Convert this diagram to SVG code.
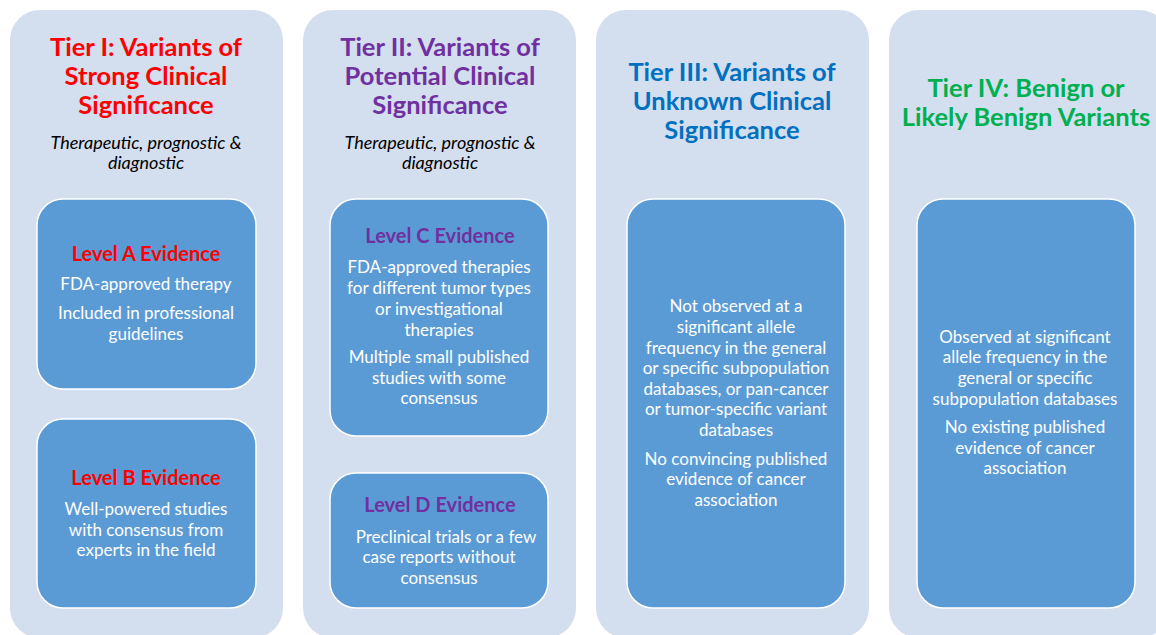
<svg xmlns="http://www.w3.org/2000/svg" width="1156" height="635" viewBox="0 0 1156 635">
<style>
.panel{fill:#D3DEEF;}
.box{fill:#5B9BD5;stroke:#FFFFFF;stroke-width:1.5;}
.title{font-family:Lato,"Liberation Sans",sans-serif;font-weight:bold;font-size:25.5px;text-anchor:middle;}
.sub{font-family:Lato,"Liberation Sans",sans-serif;font-style:italic;font-size:18px;text-anchor:middle;fill:#000;}
.hdr{font-family:Lato,"Liberation Sans",sans-serif;font-weight:bold;font-size:20px;text-anchor:middle;}
.body{font-family:Lato,"Liberation Sans",sans-serif;font-size:17px;text-anchor:middle;fill:#FFFFFF;}
.red{fill:#FF0000;}
.purple{fill:#7030A0;}
.blue{fill:#0070C0;}
.green{fill:#00B050;}
</style>
<rect width="1156" height="635" fill="#FFFFFF"/>
<g id="tier1">
<rect class="panel" x="10" y="10" width="273" height="628" rx="30"/>
<text class="title red" x="146"><tspan x="146" y="56">Tier I: Variants of</tspan><tspan x="146" y="85">Strong Clinical</tspan><tspan x="146" y="114">Significance</tspan></text>
<text class="sub"><tspan x="146" y="149">Therapeutic, prognostic &amp;</tspan><tspan x="146" y="169">diagnostic</tspan></text>
</g>
<g id="levelA">
<rect class="box" x="37" y="199" width="219" height="190" rx="26"/>
<text class="hdr red" x="146" y="261">Level A Evidence</text>
<text class="body"><tspan x="146" y="290">FDA-approved therapy</tspan><tspan x="146" y="319">Included in professional</tspan><tspan x="146" y="340">guidelines</tspan></text>
</g>
<g id="levelB">
<rect class="box" x="37" y="419" width="219" height="189" rx="26"/>
<text class="hdr red" x="146" y="485">Level B Evidence</text>
<text class="body"><tspan x="146" y="515">Well-powered studies</tspan><tspan x="146" y="536">with consensus from</tspan><tspan x="146" y="556">experts in the field</tspan></text>
</g>
<g id="tier2">
<rect class="panel" x="303" y="10" width="273" height="628" rx="30"/>
<text class="title purple"><tspan x="440" y="56">Tier II: Variants of</tspan><tspan x="440" y="85">Potential Clinical</tspan><tspan x="440" y="114">Significance</tspan></text>
<text class="sub"><tspan x="440" y="149">Therapeutic, prognostic &amp;</tspan><tspan x="440" y="169">diagnostic</tspan></text>
</g>
<g id="levelC">
<rect class="box" x="330" y="199" width="218" height="237" rx="26"/>
<text class="hdr purple" x="440" y="243">Level C Evidence</text>
<text class="body"><tspan x="439" y="273">FDA-approved therapies</tspan><tspan x="439" y="294">for different tumor types</tspan><tspan x="439" y="315">or investigational</tspan><tspan x="439" y="336">therapies</tspan><tspan x="439" y="363">Multiple small published</tspan><tspan x="439" y="384">studies with some</tspan><tspan x="439" y="404">consensus</tspan></text>
</g>
<g id="levelD">
<rect class="box" x="330" y="473" width="218" height="135" rx="26"/>
<text class="hdr purple" x="440" y="512">Level D Evidence</text>
<text class="body"><tspan x="446" y="543">Preclinical trials or a few</tspan><tspan x="439" y="563">case reports without</tspan><tspan x="439" y="584">consensus</tspan></text>
</g>
<g id="tier3">
<rect class="panel" x="596" y="10" width="273" height="628" rx="30"/>
<text class="title blue"><tspan x="732" y="81">Tier III: Variants of</tspan><tspan x="732" y="110">Unknown Clinical</tspan><tspan x="732" y="139">Significance</tspan></text>
</g>
<g id="tier3box">
<rect class="box" x="627" y="199" width="218" height="409" rx="26"/>
<text class="body"><tspan x="736" y="312">Not observed at a</tspan><tspan x="736" y="333">significant allele</tspan><tspan x="736" y="354">frequency in the general</tspan><tspan x="736" y="374">or specific subpopulation</tspan><tspan x="736" y="395">databases, or pan-cancer</tspan><tspan x="736" y="415">or tumor-specific variant</tspan><tspan x="736" y="436">databases</tspan><tspan x="736" y="465">No convincing published</tspan><tspan x="736" y="485">evidence of cancer</tspan><tspan x="736" y="506">association</tspan></text>
</g>
<g id="tier4">
<rect class="panel" x="889" y="10" width="280" height="628" rx="30"/>
<text class="title green"><tspan x="1026" y="97">Tier IV: Benign or</tspan><tspan x="1026" y="126">Likely Benign Variants</tspan></text>
</g>
<g id="tier4box">
<rect class="box" x="917" y="199" width="218" height="409" rx="26"/>
<text class="body"><tspan x="1025" y="343">Observed at significant</tspan><tspan x="1025" y="363">allele frequency in the</tspan><tspan x="1025" y="384">general or specific</tspan><tspan x="1025" y="405">subpopulation databases</tspan><tspan x="1025" y="433">No existing published</tspan><tspan x="1025" y="454">evidence of cancer</tspan><tspan x="1025" y="474">association</tspan></text>
</g>
<g id="connectors"/>
</svg>
